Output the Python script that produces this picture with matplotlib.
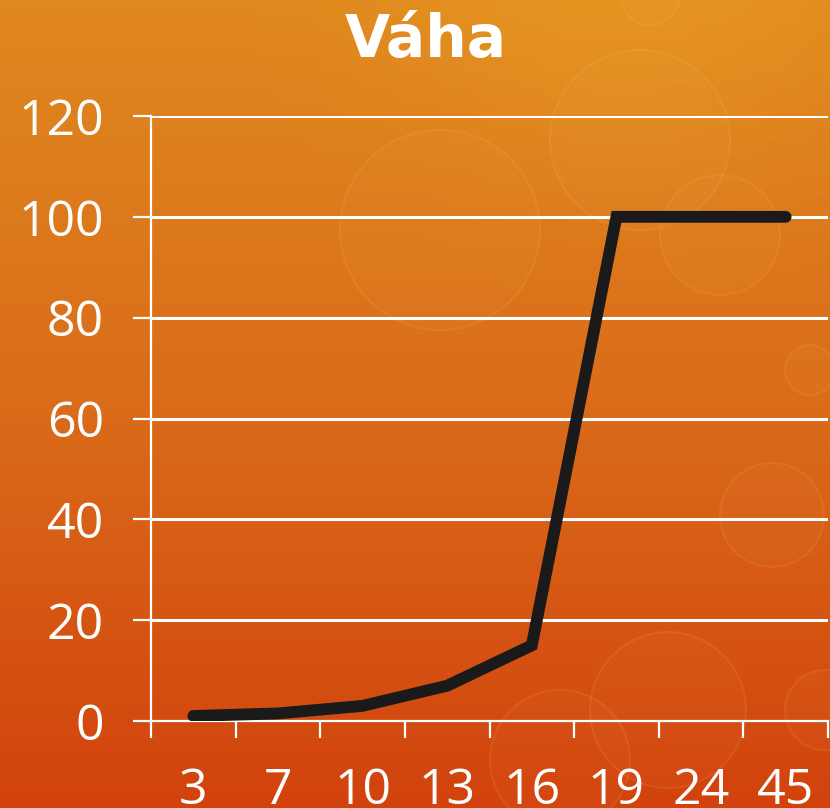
import matplotlib
matplotlib.use("Agg")
import matplotlib.pyplot as plt
import numpy as np
from matplotlib.colors import LinearSegmentedColormap
from matplotlib.patches import Circle

categories = ["3", "7", "10", "13", "16", "19", "24", "45"]
values = [1, 1.5, 3, 7, 15, 100, 100, 100]
yticks = [0, 20, 40, 60, 80, 100, 120]
title = "Váha"

W, H = 830, 808
fig = plt.figure(figsize=(W / 100, H / 100), dpi=100)

# background gradient
bg = fig.add_axes([0, 0, 1, 1], zorder=0)
cmap = LinearSegmentedColormap.from_list("bg", ["#E0891F", "#DA6C1A", "#D2420D"])
grad = np.linspace(0, 1, 256).reshape(-1, 1)
bg.imshow(grad, aspect="auto", cmap=cmap, extent=[0, W, H, 0])
xx, yy = np.meshgrid(np.linspace(0, 1, 200), np.linspace(0, 1, 200))
hl = np.exp(-(((xx - 0.75) ** 2) / 0.08 + (yy ** 2) / 0.05))
rgba = np.zeros((200, 200, 4))
rgba[..., 0] = 1.0
rgba[..., 1] = 0.8
rgba[..., 2] = 0.2
rgba[..., 3] = hl * 0.18
bg.imshow(rgba, aspect="auto", extent=[0, W, H, 0])
circles = [(640, 140, 90), (440, 230, 100), (720, 235, 60), (810, 370, 25),
           (772, 515, 52), (668, 710, 78), (560, 760, 70), (825, 710, 40),
           (650, -5, 30)]
for cx, cy, r in circles:
    bg.add_patch(Circle((cx, cy), r, facecolor=(1, 0.85, 0.5, 0.03),
                        edgecolor=(1, 0.85, 0.5, 0.10), lw=1.5))
bg.set_xlim(0, W)
bg.set_ylim(H, 0)
bg.axis("off")

ax = fig.add_axes([151 / W, 1 - 721 / H, 677 / W, (721 - 116) / H], zorder=1)
ax.patch.set_alpha(0)
x = np.arange(len(categories))
ax.set_xlim(-0.5, len(categories) - 0.5)
ax.set_ylim(0, 120)

for yv in yticks[1:]:
    ax.axhline(yv, color="white", lw=2.2, zorder=1)

ax.plot(x, values, color="#1A1A1A", lw=8.5, solid_capstyle="round",
        solid_joinstyle="miter", zorder=3)

for s in ["top", "right"]:
    ax.spines[s].set_visible(False)
for s in ["left", "bottom"]:
    ax.spines[s].set_color("white")
    ax.spines[s].set_linewidth(1.6)

ax.set_yticks(yticks)
ax.set_yticklabels([str(v) for v in yticks])
ax.tick_params(axis="y", colors="white", length=13, width=1.6, pad=21,
               labelsize=36)
ax.set_xticks(x)
ax.set_xticklabels(categories)
ax.set_xticks(np.arange(-0.5, len(categories)), minor=True)
ax.tick_params(axis="x", which="major", length=0, pad=33, colors="white",
               labelsize=36)
ax.tick_params(axis="x", which="minor", length=12, width=1.6, colors="white")
for lab in ax.get_xticklabels() + ax.get_yticklabels():
    lab.set_fontfamily("Open Sans")

fig.text(426 / W, 1 - 57 / H, title, ha="center", va="baseline",
         fontsize=42, fontweight="bold", color="white", family="DejaVu Sans")

fig.savefig("out.png", dpi=100)
